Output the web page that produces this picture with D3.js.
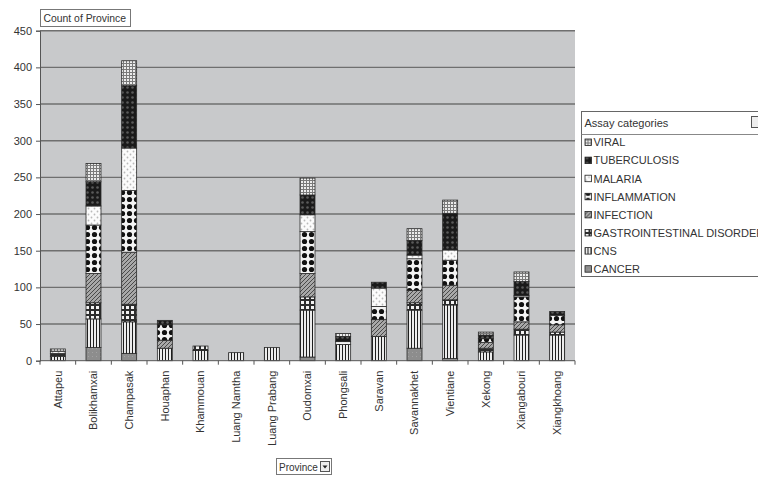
<!DOCTYPE html>
<html>
<head>
<meta charset="utf-8">
<script src="https://cdn.jsdelivr.net/npm/d3@7"></script>
<style>
  html, body { margin: 0; padding: 0; background: #fff; }
  svg { display: block; font-family: "Liberation Sans", Arial, sans-serif; }
</style>
</head>
<body>
<svg id="chart" width="758" height="479"></svg>
<script>
// Provinces along the x axis
const provinces = ["Attapeu", "Bolikhamxai", "Champasak", "Houaphan", "Khammouan",
  "Luang Namtha", "Luang Prabang", "Oudomxai", "Phongsali", "Saravan",
  "Savannakhet", "Vientiane", "Xekong", "Xiangabouri", "Xiangkhoang"];

// Assay category counts per province (stacked bottom to top)
const cancer       = [0, 18, 10, 0, 0, 0, 0, 5, 0, 0, 17, 3, 0, 0, 0];
const cns          = [6, 39, 43, 17, 14, 11, 18, 64, 22, 33, 52, 73, 12, 35, 35];
const gastro       = [4, 22, 24, 0, 6, 0, 0, 18, 0, 0, 10, 7, 5, 8, 4];
const infection    = [0, 40, 71, 11, 0, 0, 0, 32, 0, 23, 17, 20, 8, 10, 10];
const inflammation = [0, 66, 84, 21, 0, 0, 0, 57, 4, 18, 43, 34, 5, 34, 13];
const malaria      = [3, 26, 58, 0, 0, 0, 0, 23, 0, 25, 5, 14, 0, 2, 0];
const tuberculosis = [0, 33, 85, 6, 0, 0, 0, 27, 7, 8, 20, 50, 5, 19, 5];
const viral        = [3, 25, 34, 0, 0, 0, 0, 23, 4, 0, 16, 18, 4, 13, 0];

const categories = ["CANCER", "CNS", "GASTROINTESTINAL DISORDER", "INFECTION",
  "INFLAMMATION", "MALARIA", "TUBERCULOSIS", "VIRAL"];
const seriesValues = [cancer, cns, gastro, infection, inflammation, malaria, tuberculosis, viral];

const yTicks = [0, 50, 100, 150, 200, 250, 300, 350, 400, 450];

const rows = provinces.map((p, i) => {
  const r = { province: p };
  categories.forEach((c, k) => { r[c] = seriesValues[k][i]; });
  return r;
});

const svg = d3.select("#chart");
const defs = svg.append("defs");

// Fill patterns for each category
function pattern(id, w, h, bg, draw) {
  const p = defs.append("pattern").attr("id", id)
    .attr("patternUnits", "userSpaceOnUse").attr("width", w).attr("height", h);
  p.append("rect").attr("width", w).attr("height", h).attr("fill", bg);
  if (draw) draw(p);
}
pattern("p-cancer", 4, 4, "#8d8d8d", p => {
  p.append("rect").attr("x", 0).attr("y", 0).attr("width", 1).attr("height", 1).attr("fill", "#a2a2a2");
});
pattern("p-cns", 3, 3, "#ececec", p => {
  p.append("rect").attr("x", 0).attr("y", 0).attr("width", 1).attr("height", 3).attr("fill", "#1e1e1e");
});
pattern("p-gastro", 5, 5, "#2c2c2c", p => {
  p.append("rect").attr("x", 1).attr("y", 1).attr("width", 3).attr("height", 3).attr("fill", "#f2f2f2");
});
pattern("p-infection", 4, 4, "#a8a8a8", p => {
  p.append("path").attr("d", "M-1,1 L1,-1 M0,4 L4,0 M3,5 L5,3")
    .attr("stroke", "#4a4a4a").attr("stroke-width", 1);
});
pattern("p-inflammation", 7, 7, "#f4f4f4", p => {
  p.append("circle").attr("cx", 3.5).attr("cy", 3.5).attr("r", 2.6).attr("fill", "#111");
});
pattern("p-malaria", 6, 6, "#fbfbfb", p => {
  p.append("circle").attr("cx", 1.5).attr("cy", 1.5).attr("r", 0.9).attr("fill", "#b9b9b9");
  p.append("circle").attr("cx", 4.5).attr("cy", 4.5).attr("r", 0.9).attr("fill", "#b9b9b9");
});
pattern("p-tuberculosis", 5, 5, "#1a1a1a", p => {
  p.append("circle").attr("cx", 2.5).attr("cy", 2.5).attr("r", 1.3).attr("fill", "#5a5a5a");
});
pattern("p-viral", 3, 3, "#ececec", p => {
  p.append("rect").attr("x", 0).attr("y", 0).attr("width", 3).attr("height", 1).attr("fill", "#7a7a7a");
  p.append("rect").attr("x", 0).attr("y", 0).attr("width", 1).attr("height", 3).attr("fill", "#7a7a7a");
});
const fillOf = {
  "CANCER": "url(#p-cancer)", "CNS": "url(#p-cns)",
  "GASTROINTESTINAL DISORDER": "url(#p-gastro)", "INFECTION": "url(#p-infection)",
  "INFLAMMATION": "url(#p-inflammation)", "MALARIA": "url(#p-malaria)",
  "TUBERCULOSIS": "url(#p-tuberculosis)", "VIRAL": "url(#p-viral)"
};

// Plot area
const plot = { left: 40, right: 575, top: 30.7, bottom: 360.7 };
const x = d3.scaleBand().domain(provinces).range([plot.left, plot.right])
  .paddingInner(0.58).paddingOuter(0.29);
const y = d3.scaleLinear().domain([0, 450]).range([plot.bottom, plot.top]);

svg.append("rect")
  .attr("x", plot.left).attr("y", plot.top)
  .attr("width", plot.right - plot.left).attr("height", plot.bottom - plot.top)
  .attr("fill", "#c8c9cb");

// Gridlines
svg.append("g").selectAll("line").data(yTicks.filter(d => d > 0)).join("line")
  .attr("x1", plot.left).attr("x2", plot.right)
  .attr("y1", d => y(d)).attr("y2", d => y(d))
  .attr("stroke", "#6f6f6f").attr("stroke-width", 1.4);

// Stacked bars
const stack = d3.stack().keys(categories)(rows);
svg.append("g").selectAll("g").data(stack).join("g")
  .attr("fill", d => fillOf[d.key])
  .selectAll("rect").data(d => d.filter(s => s[1] - s[0] > 0)).join("rect")
  .attr("x", d => x(d.data.province))
  .attr("width", x.bandwidth())
  .attr("y", d => y(d[1]))
  .attr("height", d => y(d[0]) - y(d[1]))
  .attr("stroke", "#2a2a2a").attr("stroke-width", 0.8);

// Y axis
const yAxis = svg.append("g").attr("transform", `translate(${plot.left},0)`)
  .call(d3.axisLeft(y).tickValues(yTicks).tickSize(4).tickPadding(4));
yAxis.select(".domain").attr("stroke", "#555");
yAxis.selectAll(".tick line").attr("stroke", "#555");
yAxis.selectAll(".tick text").attr("fill", "#333").style("font-size", "11px")
  .style("font-family", "'Liberation Sans', Arial, sans-serif");

// X axis: ticks sit between categories
const xAxisG = svg.append("g");
xAxisG.append("line").attr("x1", plot.left).attr("x2", plot.right)
  .attr("y1", plot.bottom).attr("y2", plot.bottom).attr("stroke", "#555");
xAxisG.selectAll("line.tk").data(d3.range(provinces.length + 1)).join("line")
  .attr("class", "tk")
  .attr("x1", i => plot.left + i * x.step()).attr("x2", i => plot.left + i * x.step())
  .attr("y1", plot.bottom).attr("y2", plot.bottom + 4).attr("stroke", "#555");
xAxisG.selectAll("text").data(provinces).join("text")
  .attr("transform", d => `translate(${x(d) + x.bandwidth() / 2},${plot.bottom + 10}) rotate(-90)`)
  .attr("text-anchor", "end").attr("dy", "0.35em")
  .attr("fill", "#333").style("font-size", "11px")
  .text(d => d);

// Data field button at top-left
const cf = svg.append("g").attr("transform", "translate(40.5,9.5)");
cf.append("rect").attr("width", 90).attr("height", 17).attr("fill", "#fff")
  .attr("stroke", "#777");
cf.append("text").attr("x", 3).attr("y", 12.5).attr("fill", "#333")
  .style("font-size", "10.4px").text("Count of Province");

// Axis field button at bottom
const pb = svg.append("g").attr("transform", "translate(276.5,458.5)");
pb.append("rect").attr("width", 55).attr("height", 16).attr("fill", "#fff").attr("stroke", "#777");
pb.append("text").attr("x", 2.5).attr("y", 12).attr("fill", "#333")
  .style("font-size", "10px").text("Province");
pb.append("rect").attr("x", 44).attr("y", 3).attr("width", 9).attr("height", 10)
  .attr("fill", "#eee").attr("stroke", "#555");
pb.append("path").attr("d", "M46,7 L51,7 L48.5,10 Z").attr("fill", "#222");

// Legend (panel runs past the right edge of the page)
const lg = svg.append("g").attr("transform", "translate(581.5,111.5)");
lg.append("rect").attr("width", 190).attr("height", 165).attr("fill", "#fff").attr("stroke", "#666");
lg.append("line").attr("x1", 0).attr("x2", 190).attr("y1", 23).attr("y2", 23).attr("stroke", "#888");
lg.append("text").attr("x", 3).attr("y", 15).attr("fill", "#333")
  .style("font-size", "11px").text("Assay categories");
lg.append("rect").attr("x", 170).attr("y", 5).attr("width", 9).attr("height", 11)
  .attr("fill", "#eee").attr("stroke", "#555");
const legendOrder = categories.slice().reverse();
const li = lg.selectAll("g.item").data(legendOrder).join("g")
  .attr("class", "item")
  .attr("transform", (d, i) => `translate(3,${31 + i * 18.1})`);
li.append("rect").attr("x", 0.5).attr("y", -3.5).attr("width", 6.5).attr("height", 6.5)
  .attr("fill", d => fillOf[d]).attr("stroke", "#222").attr("stroke-width", 0.8);
li.append("text").attr("x", 9).attr("y", 0).attr("dy", "0.35em").attr("fill", "#333")
  .style("font-size", "11px").text(d => d);
</script>
</body>
</html>
